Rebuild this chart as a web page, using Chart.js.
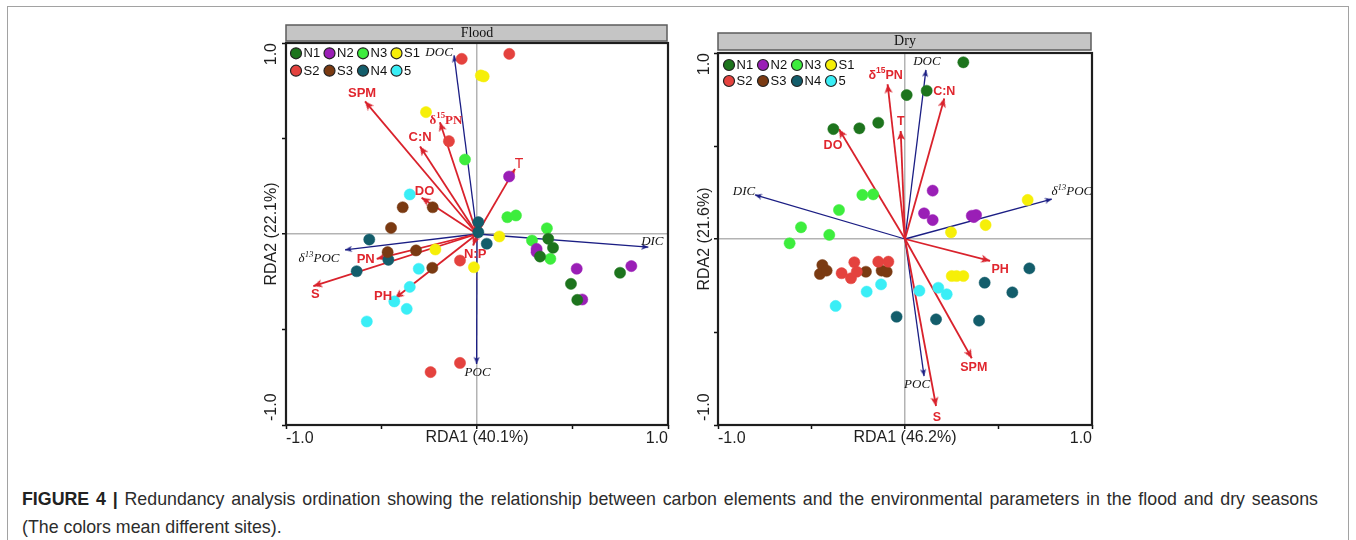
<!DOCTYPE html>
<html>
<head>
<meta charset="utf-8">
<script src="https://cdn.jsdelivr.net/npm/chart.js@4.4.1/dist/chart.umd.min.js"></script>
<style>
html,body{margin:0;padding:0;background:#fff;}
body{width:1356px;height:540px;overflow:hidden;position:relative;font-family:"Liberation Sans",Arial,sans-serif;}
#frame{position:absolute;left:7px;top:6px;width:1342px;height:600px;border:1.5px solid #a2a2a2;box-sizing:border-box;}
#c1{position:absolute;left:240px;top:10px;}
#c2{position:absolute;left:680px;top:10px;}
#caption{position:absolute;left:22px;top:485px;font-size:17.8px;line-height:28px;color:#2c2c2c;white-space:nowrap;}
#caption .l1{width:1296px;text-align:justify;text-align-last:justify;}
#caption b{color:#222;}
</style>
</head>
<body>
<div id="frame"></div>
<canvas id="c1" width="440" height="450"></canvas>
<canvas id="c2" width="440" height="450"></canvas>
<div id="caption"><div class="l1"><b>FIGURE 4 |</b> Redundancy analysis ordination showing the relationship between carbon elements and the environmental parameters in the flood and dry seasons</div><div>(The colors mean different sites).</div></div>
<script>
// ---------------- DATA ----------------
const sites = ['N1', 'N2', 'N3', 'S1', 'S2', 'S3', 'N4', '5'];
const xTickLabels = ['-1.0', '1.0'];
const yTickLabels = ['-1.0', '1.0'];
const panelTitles = ['Flood', 'Dry'];
const xAxisTitles = ['RDA1 (40.1%)', 'RDA1 (46.2%)'];
const yAxisTitles = ['RDA2 (22.1%)', 'RDA2 (21.6%)'];

// Flood season site scores [RDA1, RDA2]
const floodN1 = [[0.373, -0.025], [0.398, -0.072], [0.330, -0.118], [0.492, -0.261], [0.525, -0.345], [0.749, -0.203]];
const floodN2 = [[0.168, 0.301], [0.312, -0.078], [0.312, -0.095], [0.522, -0.182], [0.551, -0.343], [0.808, -0.168]];
const floodN3 = [[-0.063, 0.390], [0.159, 0.088], [0.204, 0.097], [0.366, 0.030], [0.288, -0.034], [0.384, -0.130]];
const floodS1 = [[0.020, 0.830], [0.035, 0.825], [-0.267, 0.638], [0.117, -0.013], [-0.218, -0.081], [-0.016, -0.174]];
const floodS2 = [[-0.080, 0.917], [0.169, 0.943], [-0.147, 0.486], [-0.089, -0.139], [-0.089, -0.675], [-0.243, -0.723]];
const floodS3 = [[-0.389, 0.140], [-0.232, 0.140], [-0.450, 0.032], [-0.468, -0.095], [-0.319, -0.086], [-0.234, -0.177]];
const floodN4 = [[0.007, 0.062], [0.007, 0.009], [0.051, -0.051], [-0.564, -0.029], [-0.464, -0.135], [-0.630, -0.195]];
const flood5 = [[-0.352, 0.207], [-0.305, -0.182], [-0.352, -0.277], [-0.433, -0.353], [-0.368, -0.392], [-0.577, -0.458]];

// Flood season biplot arrows
const floodEnvNames = ['SPM', 'δ¹⁵PN', 'C:N', 'DO', 'T', 'PN', 'S', 'PH', 'N:P'];
const floodEnvX = [-0.586, -0.194, -0.298, -0.290, 0.199, -0.525, -0.857, -0.429, -0.020];
const floodEnvY = [0.694, 0.585, 0.458, 0.190, 0.341, -0.130, -0.273, -0.336, -0.060];
const floodCarbonNames = ['DOC', 'DIC', 'POC', 'δ¹³POC'];
const floodCarbonX = [-0.120, 0.897, -0.002, -0.691];
const floodCarbonY = [0.935, -0.069, -0.680, -0.083];

// Dry season site scores [RDA1, RDA2]
const dryN1 = [[0.312, 0.950], [0.009, 0.774], [0.116, 0.797], [-0.143, 0.625], [-0.244, 0.595], [-0.383, 0.591]];
const dryN2 = [[0.148, 0.260], [0.102, 0.138], [0.148, 0.102], [0.357, 0.125], [0.380, 0.129], [0.368, 0.118]];
const dryN3 = [[-0.228, 0.237], [-0.170, 0.240], [-0.353, 0.156], [-0.556, 0.063], [-0.405, 0.022], [-0.617, -0.023]];
const dryS1 = [[0.656, 0.210], [0.431, 0.075], [0.246, 0.036], [0.250, -0.199], [0.276, -0.199], [0.312, -0.199]];
const dryS2 = [[-0.271, -0.125], [-0.339, -0.184], [-0.289, -0.211], [-0.258, -0.176], [-0.143, -0.122], [-0.089, -0.122]];
const dryS3 = [[-0.442, -0.140], [-0.455, -0.188], [-0.419, -0.170], [-0.209, -0.176], [-0.125, -0.170], [-0.098, -0.176]];
const dryN4 = [[0.665, -0.158], [0.426, -0.235], [0.574, -0.287], [0.166, -0.432], [0.396, -0.439], [-0.045, -0.418]];
const dry5 = [[0.077, -0.278], [0.178, -0.262], [0.223, -0.297], [-0.128, -0.244], [-0.205, -0.283], [-0.371, -0.360]];

// Dry season biplot arrows
const dryEnvNames = ['δ¹⁵PN', 'T', 'DO', 'C:N', 'PH', 'SPM', 'S'];
const dryEnvX = [-0.093, -0.023, -0.353, 0.210, 0.455, 0.357, 0.166];
const dryEnvY = [0.832, 0.581, 0.590, 0.756, -0.118, -0.641, -0.898];
const dryCarbonNames = ['DOC', 'DIC', 'δ¹³POC', 'POC'];
const dryCarbonX = [0.112, -0.802, 0.785, 0.102];
const dryCarbonY = [0.909, 0.237, 0.215, -0.737];

// ---------------- STYLE ----------------
const siteColors = ['#1d741d', '#9a1fb6', '#3ded3d', '#f6ef08', '#e4423e', '#7a3a12', '#135d6b', '#3aeef6'];
const ENV_COLOR = '#d9222c';
const CARBON_COLOR = '#1b1e84';
const SANS = '"Liberation Sans", Arial, sans-serif';
const SERIF = '"Liberation Serif", "Times New Roman", serif';

// label offsets (pixels from the arrow tip to the label centre)
const floodLabelOffsets = {
  'SPM': [-3, -8], 'δ¹⁵PN': [6, -2], 'C:N': [0, -9], 'DO': [3, -6], 'T': [4, -5],
  'PN': [-11, 1], 'S': [2, 8], 'PH': [-12, -2], 'N:P': [2, 9],
  'DOC': [-15, -3], 'DIC': [4, -6], 'POC': [1, 9], 'δ¹³POC': [-26, 9]
};
const dryLabelOffsets = {
  'δ¹⁵PN': [-2, -9], 'T': [0, -9], 'DO': [-6, 16], 'C:N': [0, -7], 'PH': [10, 9],
  'SPM': [2, 9], 'S': [1, 12], 'DOC': [1, -8], 'DIC': [-11, -3], 'δ¹³POC': [20, -7], 'POC': [-7, 8]
};
const floodLabelFonts = {'δ¹⁵PN': 'bold 13px ' + SERIF, 'T': '14px ' + SANS};
const dryLabelFonts = {};

function arrowHead(color, w, len) {
  const c = document.createElement('canvas');
  c.width = w; c.height = len * 2;
  const g = c.getContext('2d');
  g.fillStyle = color;
  g.beginPath();
  g.moveTo(w / 2, len);
  g.lineTo(w, len * 2);
  g.lineTo(w / 2, len * 1.75);
  g.lineTo(0, len * 2);
  g.closePath();
  g.fill();
  return c;
}
const redHead = arrowHead(ENV_COLOR, 8, 9);
const blueHead = arrowHead(CARBON_COLOR, 6, 7);

function measure(txt, font) {
  const g = document.createElement('canvas').getContext('2d');
  g.font = font;
  return g.measureText(txt).width;
}

const TOP_PAD = '     ';      // spaces that push the top label inward
const BOT_PAD = '        ';   // spaces that push the bottom label inward

function siteDatasets(arrays) {
  return arrays.map((arr, i) => ({
    label: sites[i],
    data: arr.map(p => ({x: p[0], y: p[1]})),
    backgroundColor: siteColors[i],
    borderColor: siteColors[i],
    borderWidth: 0.5,
    pointRadius: 5.6,
    pointStyle: 'circle',
    order: 0,
    isSite: true
  }));
}

function arrowDatasets(names, xs, ys, kind) {
  const isEnv = kind === 'env';
  return names.map((n, i) => ({
    label: n,
    kind: kind,
    data: [{x: 0, y: 0}, {x: xs[i], y: ys[i]}],
    showLine: true,
    borderColor: isEnv ? ENV_COLOR : CARBON_COLOR,
    borderWidth: isEnv ? 1.8 : 1.3,
    pointRadius: ctx => ctx.dataIndex === 1 ? 4 : 0,
    pointStyle: isEnv ? redHead : blueHead,
    pointRotation: ctx => {
      const ch = ctx.chart, sx = ch.scales.x, sy = ch.scales.y;
      const tip = ctx.dataset.data[1];
      const dx = sx.getPixelForValue(tip.x) - sx.getPixelForValue(0);
      const dy = sy.getPixelForValue(tip.y) - sy.getPixelForValue(0);
      return Math.atan2(dx, -dy) * 180 / Math.PI;
    },
    order: 1
  }));
}

function drawRich(ctx, text, cx, cy, font) {
  const supMap = {'⁰':'0','¹':'1','²':'2','³':'3','⁴':'4','⁵':'5','⁶':'6','⁷':'7','⁸':'8','⁹':'9'};
  const runs = [];
  for (const ch of text) {
    const sup = supMap[ch] !== undefined;
    const c = sup ? supMap[ch] : ch;
    if (runs.length && runs[runs.length - 1].sup === sup) runs[runs.length - 1].t += c;
    else runs.push({t: c, sup: sup});
  }
  const m = font.match(/([\d.]+)px/);
  const size = m ? parseFloat(m[1]) : 13;
  const supFont = font.replace(/([\d.]+)px/, (size * 0.68).toFixed(1) + 'px');
  let total = 0;
  runs.forEach(r => { ctx.font = r.sup ? supFont : font; r.w = ctx.measureText(r.t).width; total += r.w; });
  let x = cx - total / 2;
  ctx.textAlign = 'left';
  ctx.textBaseline = 'middle';
  runs.forEach(r => {
    ctx.font = r.sup ? supFont : font;
    ctx.fillText(r.t, x, r.sup ? cy - size * 0.33 : cy);
    x += r.w;
  });
}

const decorPlugin = {
  id: 'decor',
  beforeDraw(chart, args, o) {
    const {ctx, chartArea: a} = chart;
    ctx.save();
    ctx.fillStyle = '#c5c5c5';
    ctx.strokeStyle = '#5c5c5c';
    ctx.lineWidth = 1.5;
    const top = a.top - o.stripGap - o.stripH;
    ctx.fillRect(a.left, top, a.right - a.left - 1, o.stripH);
    ctx.strokeRect(a.left, top, a.right - a.left - 1, o.stripH);
    ctx.restore();
  },
  beforeDatasetsDraw(chart) {
    const {ctx, chartArea: a} = chart;
    ctx.save();
    ctx.strokeStyle = '#1e1e1e';
    ctx.lineWidth = 2.2;
    ctx.strokeRect(a.left, a.top, a.right - a.left, a.bottom - a.top);
    ctx.restore();
  },
  afterDatasetsDraw(chart, args, o) {
    const {ctx, chartArea: a} = chart;
    ctx.save();
    chart.data.datasets.forEach((ds, i) => {
      if (ds.isSite) return;
      const el = chart.getDatasetMeta(i).data[1];
      const off = o.offsets[ds.label] || [0, 0];
      const isEnv = ds.kind === 'env';
      const font = o.fonts[ds.label] || (isEnv ? 'bold ' + o.envSize + 'px ' + SANS : 'italic 13px ' + SERIF);
      ctx.fillStyle = isEnv ? '#e0262e' : '#161616';
      drawRich(ctx, ds.label, el.x + off[0], el.y + off[1], font);
    });
    const sitesDs = chart.data.datasets.filter(d => d.isSite);
    sitesDs.forEach((ds, k) => {
      const col = k % 4, row = Math.floor(k / 4);
      const x = a.left + o.legend.x0 + col * o.legend.dx;
      const y = a.top + o.legend.y0 + row * o.legend.dy;
      ctx.beginPath();
      ctx.arc(x, y, 5.5, 0, Math.PI * 2);
      ctx.fillStyle = ds.backgroundColor;
      ctx.fill();
      ctx.lineWidth = 1.2;
      ctx.strokeStyle = '#222';
      ctx.stroke();
      ctx.fillStyle = '#111';
      ctx.font = '13px ' + SANS;
      ctx.textAlign = 'left';
      ctx.textBaseline = 'middle';
      ctx.fillText(ds.label, x + 7.5, y + 0.5);
    });
    ctx.restore();
  }
};

const tickFont = {family: SANS, size: 16};

function makeChart(canvasId, p) {
  const widest = Math.max(measure(yTickLabels[1] + TOP_PAD, '16px ' + SANS), measure(BOT_PAD + yTickLabels[0], '16px ' + SANS));
  return new Chart(document.getElementById(canvasId), {
    type: 'scatter',
    data: {datasets: siteDatasets(p.sites).concat(arrowDatasets(p.envNames, p.envX, p.envY, 'env'), arrowDatasets(p.cNames, p.cX, p.cY, 'carbon'))},
    options: {
      responsive: false,
      animation: false,
      events: [],
      layout: {padding: {left: 0, right: p.padRight, top: 0, bottom: 0}},
      plugins: {
        legend: {display: false},
        tooltip: {enabled: false},
        title: {
          display: true, text: p.title, fullSize: false, color: '#111',
          font: {family: SERIF, size: 14, weight: 'normal'},
          padding: {top: p.titlePadTop, bottom: p.titlePadBottom}
        },
        decor: {stripH: p.stripH, stripGap: p.stripGap, offsets: p.offsets, fonts: p.fonts, envSize: p.envSize, legend: p.legend}
      },
      scales: {
        x: {
          type: 'linear', min: -1, max: 1, position: 'bottom',
          afterFit(s) { s.height = 35; },
          border: {display: false},
          grid: {
            color: c => c.tick && c.tick.value === 0 ? '#b3b3b3' : 'rgba(0,0,0,0)',
            lineWidth: c => c.tick && c.tick.value === 0 ? 1.5 : 1,
            tickColor: '#111', tickLength: 4, tickWidth: 1.5
          },
          ticks: {
            stepSize: 0.5, autoSkip: false, maxRotation: 0, align: 'inner', padding: 0,
            font: tickFont, color: '#1e1e1e',
            callback: v => v === -1 ? xTickLabels[0] : (v === 1 ? xTickLabels[1] : '')
          },
          title: {display: true, text: p.xTitle, color: '#1e1e1e', font: {family: SANS, size: 16}, padding: {top: 0, bottom: 12.4}}
        },
        y: {
          type: 'linear', min: -1, max: 1, position: 'left',
          afterFit(s) { s.width = p.yWidth; },
          border: {display: false},
          grid: {
            color: c => c.tick && c.tick.value === 0 ? '#b3b3b3' : 'rgba(0,0,0,0)',
            lineWidth: c => c.tick && c.tick.value === 0 ? 1.5 : 1,
            tickColor: '#111', tickLength: 4, tickWidth: 1.5
          },
          ticks: {
            stepSize: 0.5, autoSkip: false, minRotation: 90, maxRotation: 90, crossAlign: 'center',
            padding: (p.yWidth - 4 - p.yLabelX) - widest / 2,
            font: tickFont, color: '#1e1e1e',
            callback: v => v === 1 ? yTickLabels[1] + TOP_PAD : (v === -1 ? BOT_PAD + yTickLabels[0] : '')
          },
          title: {display: true, text: p.yTitle, color: '#1e1e1e', font: {family: SANS, size: 16}, padding: {top: p.yLabelX - 9.6, bottom: 0}}
        }
      }
    },
    plugins: [decorPlugin]
  });
}

makeChart('c1', {
  sites: [floodN1, floodN2, floodN3, floodS1, floodS2, floodS3, floodN4, flood5],
  envNames: floodEnvNames, envX: floodEnvX, envY: floodEnvY,
  cNames: floodCarbonNames, cX: floodCarbonX, cY: floodCarbonY,
  title: panelTitles[0], xTitle: xAxisTitles[0], yTitle: yAxisTitles[0],
  padRight: 12, yWidth: 46, yLabelX: 32,
  titlePadTop: 14.6, titlePadBottom: 1.6, stripH: 16, stripGap: 2,
  offsets: floodLabelOffsets, fonts: floodLabelFonts, envSize: 13,
  legend: {x0: 10, y0: 10.3, dx: 33.5, dy: 17.4}
});

makeChart('c2', {
  sites: [dryN1, dryN2, dryN3, dryS1, dryS2, dryS3, dryN4, dry5],
  envNames: dryEnvNames, envX: dryEnvX, envY: dryEnvY,
  cNames: dryCarbonNames, cX: dryCarbonX, cY: dryCarbonY,
  title: panelTitles[1], xTitle: xAxisTitles[1], yTitle: yAxisTitles[1],
  padRight: 28, yWidth: 38, yLabelX: 25,
  titlePadTop: 22.6, titlePadBottom: 3.6, stripH: 17, stripGap: 3,
  offsets: dryLabelOffsets, fonts: dryLabelFonts, envSize: 12.5,
  legend: {x0: 11, y0: 12, dx: 34, dy: 16}
});
</script>
</body>
</html>
